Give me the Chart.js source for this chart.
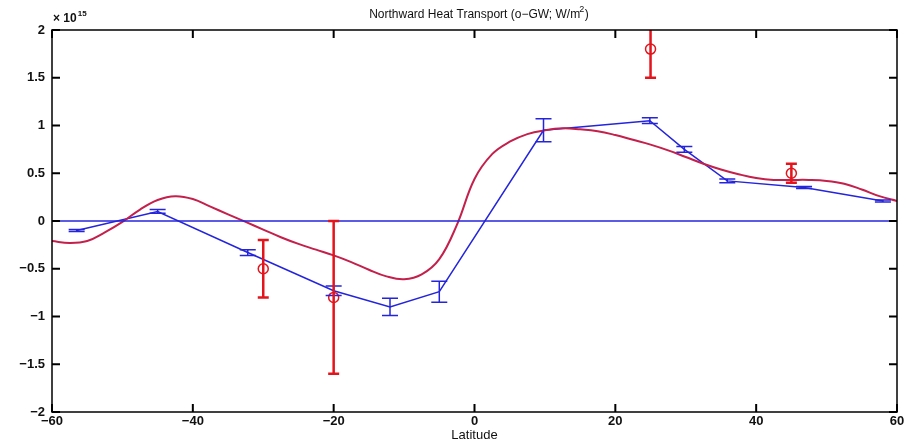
<!DOCTYPE html>
<html>
<head>
<meta charset="utf-8">
<script src="https://cdn.jsdelivr.net/npm/chart.js@4.4.1/dist/chart.umd.min.js"></script>
<style>
  body { margin: 0; background: #fff; }
  #wrap { width: 907px; height: 443px; }
</style>
</head>
<body>
<div id="wrap"><canvas id="heatChart" width="907" height="443"></canvas></div>
<script>
// model curve (x 1e15 W)
let model_lat = [-60, -57.5, -55, -52.5, -50, -47.5, -45, -42.5, -40, -37.5, -35, -32.5, -30, -27.5, -25, -22.5, -20, -17.5, -15, -12.5, -10, -7.5, -5, -2.5, 0, 2.5, 5, 7.5, 10, 12.5, 15, 17.5, 20, 22.5, 25, 27.5, 30, 32.5, 35, 37.5, 40, 42.5, 45, 47.5, 50, 52.5, 55, 57.5, 60];
let model_val = [-0.21, -0.23, -0.21, -0.12, -0.01, 0.12, 0.22, 0.26, 0.23, 0.15, 0.07, -0.01, -0.09, -0.17, -0.24, -0.3, -0.36, -0.43, -0.51, -0.58, -0.61, -0.56, -0.4, -0.04, 0.44, 0.7, 0.83, 0.91, 0.95, 0.97, 0.96, 0.94, 0.9, 0.85, 0.8, 0.74, 0.67, 0.6, 0.54, 0.49, 0.45, 0.43, 0.43, 0.43, 0.42, 0.39, 0.33, 0.26, 0.21];

// inverse estimate (blue) with error bars
let inv_lat = [-56.5, -45, -32.2, -20, -12, -5, 9.8, 24.9, 29.8, 35.9, 46.8, 58];
let inv_val = [-0.1, 0.1, -0.33, -0.73, -0.9, -0.74, 0.95, 1.05, 0.75, 0.42, 0.35, 0.21];
let inv_err = [0.01, 0.02, 0.03, 0.05, 0.09, 0.11, 0.12, 0.03, 0.03, 0.02, 0.01, 0.01];

// independent estimates (red circles)
let obs_lat = [-30, -20, 25, 45];
let obs_val = [-0.5, -0.8, 1.8, 0.5];
let obs_err = [0.3, 0.8, 0.3, 0.1];

let zero_lat = [-60, 60];
let zero_val = [0, 0];

let x_ticks = [-60, -40, -20, 0, 20, 40, 60];
let y_ticks = [-2, -1.5, -1, -0.5, 0, 0.5, 1, 1.5, 2];

const FONT = '"Liberation Sans", Arial, sans-serif';
const BLUE = '#2424dc';
const CURVE = '#c4204c';
const RED = '#e4141c';

function pts(xs, ys) {
  return xs.map((x, i) => ({ x: x, y: ys[i] }));
}

// error bars + matlab style frame
let extras = {
  id: 'extras',
  afterDatasetsDraw(chart) {
    let ctx = chart.ctx;
    let xs = chart.scales.x, ys = chart.scales.y;
    let a = chart.chartArea;

    ctx.save();
    ctx.beginPath();
    ctx.rect(a.left, a.top, a.right - a.left, a.bottom - a.top);
    ctx.clip();

    function bars(lat, val, err, color, width, cap) {
      ctx.strokeStyle = color;
      ctx.lineWidth = width;
      lat.forEach((l, i) => {
        let px = xs.getPixelForValue(l);
        let top = ys.getPixelForValue(val[i] + err[i]);
        let bot = ys.getPixelForValue(val[i] - err[i]);
        ctx.beginPath();
        ctx.moveTo(px, top); ctx.lineTo(px, bot);
        ctx.moveTo(px - cap, top); ctx.lineTo(px + cap, top);
        ctx.moveTo(px - cap, bot); ctx.lineTo(px + cap, bot);
        ctx.stroke();
      });
    }
    bars(inv_lat, inv_val, inv_err, BLUE, 1.5, 8);
    bars(obs_lat, obs_val, obs_err, RED, 2.5, 5.5);
    ctx.restore();

    // frame
    ctx.save();
    ctx.strokeStyle = '#000';
    ctx.lineWidth = 1.5;
    ctx.strokeRect(a.left, a.top, a.right - a.left, a.bottom - a.top);
    ctx.lineWidth = 2;
    x_ticks.forEach(t => {
      let px = xs.getPixelForValue(t);
      ctx.beginPath();
      ctx.moveTo(px, a.bottom); ctx.lineTo(px, a.bottom - 8);
      ctx.moveTo(px, a.top); ctx.lineTo(px, a.top + 8);
      ctx.stroke();
    });
    y_ticks.forEach(t => {
      let py = ys.getPixelForValue(t);
      ctx.beginPath();
      ctx.moveTo(a.left, py); ctx.lineTo(a.left + 8, py);
      ctx.moveTo(a.right, py); ctx.lineTo(a.right - 8, py);
      ctx.stroke();
    });

    // title and exponent
    ctx.fillStyle = '#111';
    ctx.textBaseline = 'alphabetic';
    ctx.font = '12px ' + FONT;
    let t1 = 'Northward Heat Transport (o\u2212GW; W/m';
    let w1 = ctx.measureText(t1).width;
    let w2 = ctx.measureText('2').width;
    let w3 = ctx.measureText(')').width;
    let tx = 480 - (w1 + w2 + w3) / 2;
    ctx.fillText(t1, tx, 18);
    ctx.font = '9px ' + FONT;
    ctx.fillText('2', tx + w1 - 1, 12);
    ctx.font = '12px ' + FONT;
    ctx.fillText(')', tx + w1 + w2 - 2, 18);

    ctx.font = 'bold 12px ' + FONT;
    ctx.fillText('\u00d7 10', a.left + 1, 22);
    let wx = ctx.measureText('\u00d7 10').width;
    ctx.font = 'bold 8px ' + FONT;
    ctx.fillText('15', a.left + 1 + wx + 1, 16);
    ctx.restore();
  }
};

let heatChart = new Chart(document.getElementById('heatChart').getContext('2d'), {
  type: 'scatter',
  data: {
    datasets: [
      {
        label: 'zero',
        data: pts(zero_lat, zero_val),
        showLine: true,
        borderColor: BLUE,
        borderWidth: 1.5,
        pointRadius: 0
      },
      {
        label: 'model',
        data: pts(model_lat, model_val),
        showLine: true,
        borderColor: CURVE,
        borderWidth: 2,
        pointRadius: 0,
        tension: 0.4
      },
      {
        label: 'inverse',
        data: pts(inv_lat, inv_val),
        showLine: true,
        borderColor: BLUE,
        borderWidth: 1.5,
        pointRadius: 0
      },
      {
        label: 'obs',
        data: pts(obs_lat, obs_val),
        showLine: false,
        borderColor: RED,
        backgroundColor: 'rgba(0,0,0,0)',
        borderWidth: 1.5,
        pointRadius: 5,
        pointStyle: 'circle'
      }
    ]
  },
  options: {
    responsive: false,
    animation: false,
    layout: { padding: { top: 30, right: 10, left: 0, bottom: 0 } },
    plugins: {
      legend: { display: false },
      tooltip: { enabled: false }
    },
    scales: {
      x: {
        type: 'linear',
        min: -60,
        max: 60,
        afterBuildTicks: s => { s.ticks = x_ticks.map(v => ({ value: v })); },
        afterFit: s => { s.height = 31; },
        grid: { display: false, drawTicks: false },
        border: { display: false },
        ticks: {
          padding: 2,
          color: '#111',
          font: { family: FONT, size: 13, weight: 'bold' },
          callback: v => String(v).replace('-', '\u2212')
        },
        title: {
          display: true,
          text: 'Latitude',
          color: '#111',
          font: { family: FONT, size: 13 },
          padding: 0
        }
      },
      y: {
        min: -2,
        max: 2,
        afterBuildTicks: s => { s.ticks = y_ticks.map(v => ({ value: v })); },
        afterFit: s => { s.width = 52; },
        grid: { display: false, drawTicks: false },
        border: { display: false },
        ticks: {
          padding: 7,
          color: '#111',
          font: { family: FONT, size: 13, weight: 'bold' },
          callback: v => String(v).replace('-', '\u2212')
        }
      }
    }
  },
  plugins: [extras]
});
</script>
</body>
</html>
